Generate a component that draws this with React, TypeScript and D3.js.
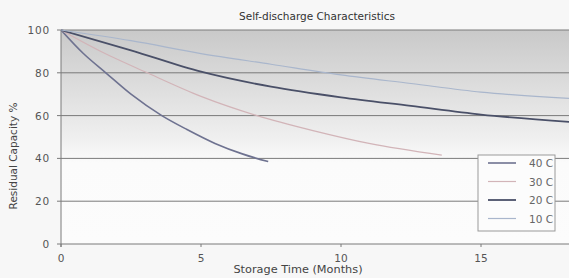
import React from "react";
import * as d3 from "d3";

const months40 = [0, 0.8, 1.6, 2.5, 3.6, 4.5, 5.5, 6.5, 7.4];
const values40 = [100, 89, 80, 70, 60, 53.5, 47, 42, 38.5];
const months30 = [0, 1.5, 3, 5, 7, 9, 11, 13.6];
const values30 = [100, 89.5, 80.5, 69, 60, 53, 47, 41.5];
const months20 = [0, 2.5, 5, 7.5, 10, 12.5, 15, 18.2];
const values20 = [100, 90.5, 80.5, 73.5, 68.5, 64.5, 60.5, 57];
const months10 = [0, 2.5, 5, 7.5, 10, 12.5, 15, 18.2];
const values10 = [100, 95, 89, 84, 79, 75, 71, 68];

const seriesNames = ["40 C", "30 C", "20 C", "10 C"];
const seriesMonths = [months40, months30, months20, months10];
const seriesValues = [values40, values30, values20, values10];
const seriesColors = ["#6e7290", "#d2b4b8", "#4a5068", "#a9b6cc"];
const seriesWidths = [1.6, 1.2, 1.8, 1.2];

const xTicks = [0, 5, 10, 15];
const yTicks = [0, 20, 40, 60, 80, 100];

export default function App() {
  const W = 569, H = 278;
  const left = 61, top = 30, bottom = 244;
  const x = d3.scaleLinear().domain([0, 5]).range([left, 201]);
  const y = d3.scaleLinear().domain([0, 100]).range([bottom, top]);
  const right = W + 5;
  const font = "DejaVu Sans, Verdana, sans-serif";
  const line = d3
    .line<[number, number]>()
    .x((d) => x(d[0]))
    .y((d) => y(d[1]))
    .curve(d3.curveMonotoneX);

  return (
    <svg
      width={W}
      height={H}
      style={{ position: "absolute", left: 0, top: 0, background: "#f6f6f6" }}
    >
      <defs>
        <linearGradient id="bg" x1="0" y1="0" x2="0" y2="1">
          <stop offset="0" stopColor="#c9c9c9" />
          <stop offset="0.25" stopColor="#dcdcdc" />
          <stop offset="0.5" stopColor="#efefef" />
          <stop offset="0.62" stopColor="#fbfbfb" />
          <stop offset="1" stopColor="#fcfcfc" />
        </linearGradient>
        <clipPath id="clip">
          <rect x={left} y={top - 2} width={right - left} height={bottom - top + 4} />
        </clipPath>
      </defs>
      <rect x={0} y={0} width={W} height={H} fill="#f7f7f7" />
      <rect x={left} y={top} width={right - left} height={bottom - top} fill="url(#bg)" />
      {yTicks.map((t) => (
        <g key={t}>
          <line x1={left - 4} x2={right} y1={y(t)} y2={y(t)} stroke="#7a7a7a" strokeWidth={1} />
          <text
            x={left - 11}
            y={y(t) + 4}
            textAnchor="end"
            fontFamily={font}
            fontSize={10.5}
            letterSpacing={0.8}
            fill="#555"
          >
            {t}
          </text>
        </g>
      ))}
      <line x1={left} x2={left} y1={top} y2={bottom + 3} stroke="#7a7a7a" strokeWidth={1} />
      {xTicks.map((t) => (
        <g key={t}>
          <line x1={x(t)} x2={x(t)} y1={bottom} y2={bottom + 3} stroke="#7a7a7a" />
          <text
            x={x(t)}
            y={bottom + 18}
            textAnchor="middle"
            fontFamily={font}
            fontSize={10.5}
            fill="#555"
          >
            {t}
          </text>
        </g>
      ))}
      <g clipPath="url(#clip)">
        {seriesNames.map((name, i) => {
          const pts = seriesMonths[i].map((m, j) => [m, seriesValues[i][j]] as [number, number]);
          return (
            <path
              key={name}
              d={line(pts) || ""}
              fill="none"
              stroke={seriesColors[i]}
              strokeWidth={seriesWidths[i]}
            />
          );
        })}
      </g>
      <text x={317} y={20} textAnchor="middle" fontFamily={font} fontSize={10.5} fill="#333">
        Self-discharge Characteristics
      </text>
      <text
        transform={`translate(17,156) rotate(-90)`}
        textAnchor="middle"
        fontFamily={font}
        fontSize={10.5}
        fill="#444"
      >
        Residual Capacity %
      </text>
      <text x={298} y={273} textAnchor="middle" fontFamily={font} fontSize={11.3} fill="#444">
        Storage Time (Months)
      </text>
      <rect x={478} y={155} width={77} height={76} fill="#fcfcfc" stroke="#9a9a9a" strokeWidth={1} />
      {seriesNames.map((name, i) => {
        const ly = 163 + i * 18.5;
        return (
          <g key={name}>
            <line x1={488} x2={516} y1={ly} y2={ly} stroke={seriesColors[i]} strokeWidth={seriesWidths[i]} />
            <text x={553} y={ly + 4} textAnchor="end" fontFamily={font} fontSize={10.5} fill="#666">
              {name}
            </text>
          </g>
        );
      })}
    </svg>
  );
}
